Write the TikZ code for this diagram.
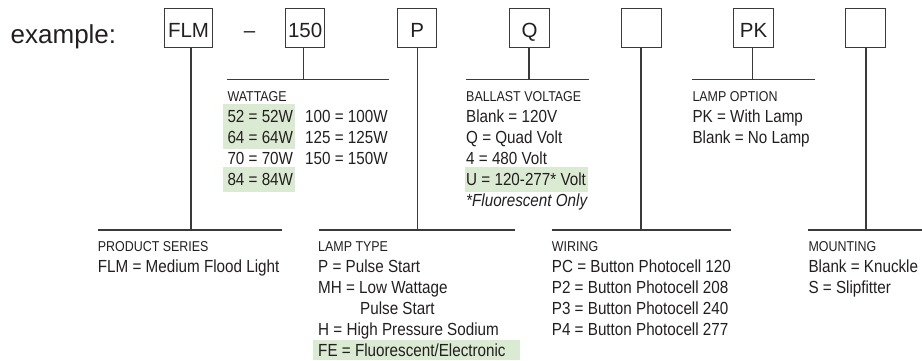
\documentclass[tikz,border=0pt]{standalone}
\usepackage{fontspec}
\setmainfont{Liberation Sans}
\newfontfamily\condfont{Liberation Sans}[FakeStretch=0.87]
\definecolor{ink}{HTML}{231F20}
\definecolor{hl}{HTML}{DBEAD2}
\definecolor{rulecol}{HTML}{3A3A3A}
\begin{document}
\begin{tikzpicture}[x=1pt,y=-1pt,
  codebox/.style={draw=rulecol,line width=1pt,minimum width=39.5pt,minimum height=39.5pt,inner sep=0pt,text height=18pt,text depth=0pt,font=\fontsize{20.5}{24}\selectfont,text=ink},
  head/.style={anchor=base west,inner sep=0pt,font=\condfont\fontsize{14.3}{17}\selectfont,text=ink},
  entry/.style={anchor=base west,inner sep=0pt,font=\condfont\fontsize{17.5}{21}\selectfont,text=ink},
  conn/.style={draw=rulecol,line width=1.2pt},
  hlbox/.style={fill=hl,draw=none}]
\useasboundingbox (0,0) rectangle (922,360);

% highlights
\fill[hlbox] (223.3,103.5) rectangle (295,149);
\fill[hlbox] (223.3,166.5) rectangle (295,192);
\fill[hlbox] (465,166.5) rectangle (588.3,192);
\fill[hlbox] (313.3,339.5) rectangle (520,360);

% header
\node[anchor=base west,inner sep=0pt,font=\fontsize{26}{30}\selectfont,text=ink] (ex) at (10.5,43.5) {example:};
\node[codebox,minimum width=48.4pt] (b1) at (188.5,28.2) {FLM};
\node[anchor=base,inner sep=0pt,font=\fontsize{20.5}{24}\selectfont,text=ink] (dash) at (249.5,37.3) {–};
\node[codebox] (b2) at (305.2,28.2) {150};
\node[codebox] (b3) at (417.2,28.2) {P};
\node[codebox] (b4) at (529.7,28.2) {Q};
\node[codebox] (b5) at (641.3,28.2) {};
\node[codebox] (b6) at (753.5,28.2) {PK};
\node[codebox] (b7) at (865.5,28.2) {};

% connector coordinates
\coordinate (v1) at (191,230);   \coordinate (l1) at (97.7,230);  \coordinate (r1) at (281.7,230);
\coordinate (v2) at (303.7,79.3); \coordinate (l2) at (227.3,79.3); \coordinate (r2) at (389.3,79.3);
\coordinate (v3) at (417.7,230); \coordinate (l3) at (319,230);   \coordinate (r3) at (515,230);
\coordinate (v4) at (529,79.3);  \coordinate (l4) at (466,79.3);  \coordinate (r4) at (589,79.3);
\coordinate (v5) at (641,230);   \coordinate (l5) at (551.7,230); \coordinate (r5) at (731,230);
\coordinate (v6) at (752.3,79.3); \coordinate (l6) at (692.3,79.3); \coordinate (r6) at (815,79.3);
\coordinate (v7) at (866,230);   \coordinate (l7) at (808.3,230); \coordinate (r7) at (922,230);

\foreach \i in {1,...,7}{
  \draw[conn] (b\i.south -| v\i) -- (v\i);
  \draw[conn] (l\i) -- (r\i);
}

% wattage
\node[head]  (wh) at (227.3,101) {WATTAGE};
\node[entry] (w1) at (227.3,122) {52 = 52W};
\node[entry] (w2) at (227.3,143) {64 = 64W};
\node[entry] (w3) at (227.3,164) {70 = 70W};
\node[entry] (w4) at (227.3,185) {84 = 84W};
\node[entry] (w5) at (305,122) {100 = 100W};
\node[entry] (w6) at (305,143) {125 = 125W};
\node[entry] (w7) at (305,164) {150 = 150W};

% ballast voltage
\node[head]  (bh) at (466,101) {BALLAST VOLTAGE};
\node[entry] (bv1) at (466,122) {Blank = 120V};
\node[entry] (bv2) at (466,143) {Q = Quad Volt};
\node[entry] (bv3) at (466,164) {4 = 480 Volt};
\node[entry] (bv4) at (466,185) {U = 120-277* Volt};
\node[entry] (bv5) at (466,206) {\itshape *Fluorescent Only};

% lamp option
\node[head]  (oh) at (692.3,101) {LAMP OPTION};
\node[entry] (o1) at (692.3,122) {PK = With Lamp};
\node[entry] (o2) at (692.3,143) {Blank = No Lamp};

% product series
\node[head]  (ph) at (97.7,251.5) {PRODUCT SERIES};
\node[entry] (p1) at (97.7,272.5) {FLM = Medium Flood Light};

% lamp type
\node[head]  (th) at (318,251.5) {LAMP TYPE};
\node[entry] (t1) at (318,272.5) {P = Pulse Start};
\node[entry] (t2) at (318,293.5) {MH = Low Wattage};
\node[entry] (t3) at (360,314.5) {Pulse Start};
\node[entry] (t4) at (318,335.5) {H = High Pressure Sodium};
\node[entry] (t5) at (318,356.5) {FE = Fluorescent/Electronic};

% wiring
\node[head]  (rh) at (551.7,251.5) {WIRING};
\node[entry] (r1t) at (551.7,272.5) {PC = Button Photocell 120};
\node[entry] (r2t) at (551.7,293.5) {P2 = Button Photocell 208};
\node[entry] (r3t) at (551.7,314.5) {P3 = Button Photocell 240};
\node[entry] (r4t) at (551.7,335.5) {P4 = Button Photocell 277};

% mounting
\node[head]  (mh) at (808.3,251.5) {MOUNTING};
\node[entry] (m1) at (808.3,272.5) {Blank = Knuckle};
\node[entry] (m2) at (808.3,293.5) {S = Slipfitter};
\end{tikzpicture}
\end{document}
